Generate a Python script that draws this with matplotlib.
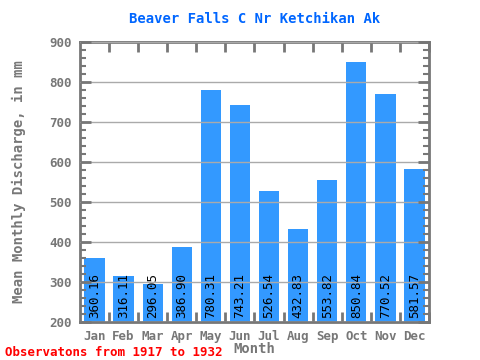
import matplotlib
matplotlib.use("Agg")
import matplotlib.pyplot as plt
import numpy as np
from matplotlib.ticker import MultipleLocator, FixedLocator, NullFormatter

months = ["Jan", "Feb", "Mar", "Apr", "May", "Jun", "Jul", "Aug", "Sep", "Oct", "Nov", "Dec"]
discharge = [360.16, 316.11, 296.05, 386.90, 780.31, 743.21, 526.54, 432.83, 553.82, 850.84, 770.52, 581.57]

mono = "DejaVu Sans Mono"
gray = "#777777"

fig = plt.figure(figsize=(4.8, 3.6), dpi=100)
ax = fig.add_axes([80 / 480, 1 - 322 / 360, 349 / 480, 280 / 360])

x = np.arange(len(months))
ax.bar(x, discharge, width=0.7, color="#3399ff", zorder=1)
ax.set_xlim(-0.5, len(months) - 0.5)
ax.set_ylim(200, 900)

for xi, v in zip(x, discharge):
    ax.text(xi, 209, f"{v:.2f}", rotation=90, ha="center", va="bottom",
            fontsize=9, family=mono, color="black", zorder=3)

ax.yaxis.set_major_locator(MultipleLocator(100))
ax.yaxis.set_minor_locator(MultipleLocator(20))
ax.grid(axis="y", which="major", color="#aaaaaa", linewidth=1, zorder=2)
ax.set_axisbelow(False)

ax.xaxis.set_major_locator(FixedLocator(x + 0.5))
ax.xaxis.set_major_formatter(NullFormatter())
ax.xaxis.set_minor_locator(FixedLocator(x))
ax.set_xticklabels(months, minor=True)

ax.tick_params(axis="y", which="major", direction="in", length=8, width=2, color=gray,
               left=True, right=True, labelcolor=gray, labelsize=9, pad=6)
ax.tick_params(axis="y", which="minor", direction="in", length=4, width=1.5, color=gray,
               left=True, right=True)
ax.tick_params(axis="x", which="major", direction="in", length=7, width=2, color=gray,
               top=True, bottom=True)
ax.tick_params(axis="x", which="minor", length=0, labelcolor=gray, labelsize=9, pad=6)

for lab in ax.get_yticklabels() + ax.get_xticklabels(minor=True):
    lab.set_family(mono)
    lab.set_fontweight("bold")

for s in ax.spines.values():
    s.set_color(gray)
    s.set_linewidth(2)

ax.set_title("Beaver Falls C Nr Ketchikan Ak", color="#0066ff", family=mono,
             fontweight="bold", fontsize=10, pad=14)
ax.set_ylabel("Mean Monthly Discharge, in mm", color=gray, family=mono,
              fontweight="bold", fontsize=10)
ax.yaxis.set_label_coords(-0.155, 0.5)
ax.set_xlabel("Month", color=gray, family=mono, fontweight="bold", fontsize=10)
ax.xaxis.set_label_coords(0.5, -0.072)

fig.text(5 / 480, 1 - 352 / 360, "Observatons from 1917 to 1932", color="red",
         family=mono, fontweight="bold", fontsize=9, va="center")

fig.savefig("out.png", dpi=100)
